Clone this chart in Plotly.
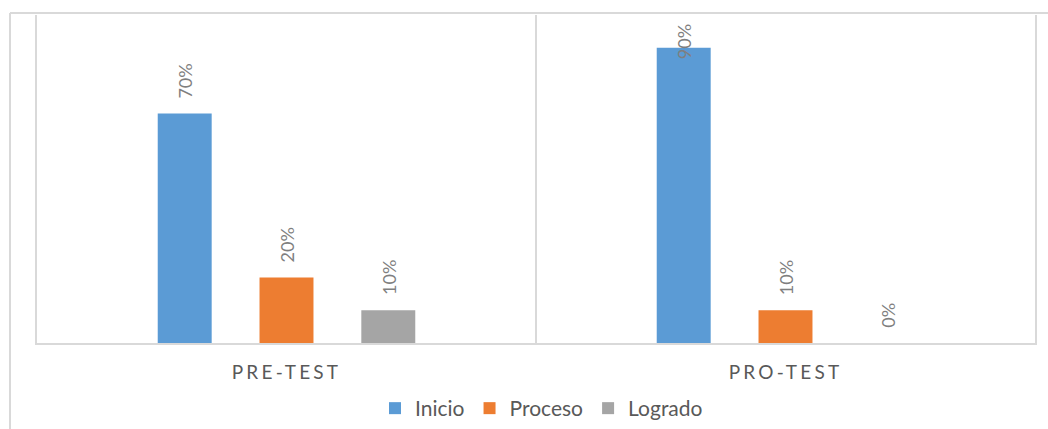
import plotly.graph_objects as go

categories = ["PRE-TEST", "PRO-TEST"]
series_names = ["Inicio", "Proceso", "Logrado"]
inicio = [0.70, 0.90]
proceso = [0.20, 0.10]
logrado = [0.10, 0.00]
colors = ["#5B9BD5", "#ED7D31", "#A5A5A5"]

FONT = "Lato"
Y_MAX = 1.0

W, H = 1048, 429
ML, MR, MT = 37, 13, 15
PLOT_BOTTOM = 343  # px from top
paper_h = H - MT
y_dom0 = (H - PLOT_BOTTOM) / paper_h

fig = go.Figure()
all_series = [inicio, proceso, logrado]
for name, vals, col in zip(series_names, all_series, colors):
    fig.add_trace(go.Bar(x=categories, y=vals, name=name, marker_color=col,
                         marker_line_width=0, offsetgroup=name))

# data labels (rotated) as annotations above each bar
annotations = []
n = len(series_names)
group_w = 1 - 0.388
slot = group_w / n
for si, vals in enumerate(all_series):
    for ci, v in enumerate(vals):
        xpos = ci - group_w / 2 + slot * (si + 0.5)
        txt = f"{round(v*100)}%"
        if v > 0.8:
            annotations.append(dict(x=xpos, y=Y_MAX, xref="x", yref="y", text=txt,
                                    textangle=-90, showarrow=False, yanchor="top",
                                    yshift=-7, font=dict(family=FONT, size=18, color="#7F7F7F")))
        else:
            annotations.append(dict(x=xpos, y=v, xref="x", yref="y", text=txt,
                                    textangle=-90, showarrow=False, yanchor="bottom",
                                    yshift=13, font=dict(family=FONT, size=18, color="#7F7F7F")))

border = "#D9D9D9"
x_left = (10 - ML) / (W - ML - MR)
y_top = (H - 13) / paper_h
shapes = [
    dict(type="line", xref="paper", yref="paper", x0=x_left, x1=1.2, y0=y_top, y1=y_top,
         line=dict(color=border, width=2)),
    dict(type="line", xref="paper", yref="paper", x0=x_left, x1=x_left, y0=y_top, y1=-0.2,
         line=dict(color=border, width=2)),
]

fig.update_layout(
    width=W, height=H,
    margin=dict(l=ML, r=MR, t=MT, b=0),
    paper_bgcolor="white", plot_bgcolor="white",
    barmode="group", bargap=0.388, bargroupgap=0.47,
    annotations=annotations, shapes=shapes,
    showlegend=True,
    legend=dict(orientation="h", x=0.5055, xanchor="center", y=0.0, yanchor="bottom",
                font=dict(family=FONT, size=21, color="#595959"), itemwidth=30,
                traceorder="normal"),
    font=dict(family=FONT),
)
fig.update_xaxes(type="category", range=[-0.5, 1.5], showline=True, linecolor=border,
                 linewidth=2, showgrid=True, gridcolor=border, gridwidth=2,
                 tickson="boundaries", ticks="", automargin=False,
                 tickvals=categories,
                 ticktext=['<span style="letter-spacing:3.2px">' + c + '</span>' for c in categories],
                 tickfont=dict(family=FONT, size=19, color="#595959"),
                 ticklabelstandoff=11)
fig.update_yaxes(range=[0, Y_MAX], domain=[y_dom0, 1], showgrid=False, zeroline=False,
                 showticklabels=False, automargin=False,
                 showline=True, mirror=True, linecolor=border, linewidth=2, ticks="")

fig.write_html("out.html", config={"displayModeBar": False},
               post_script="document.body.style.margin='0';document.body.style.overflow='hidden';")
